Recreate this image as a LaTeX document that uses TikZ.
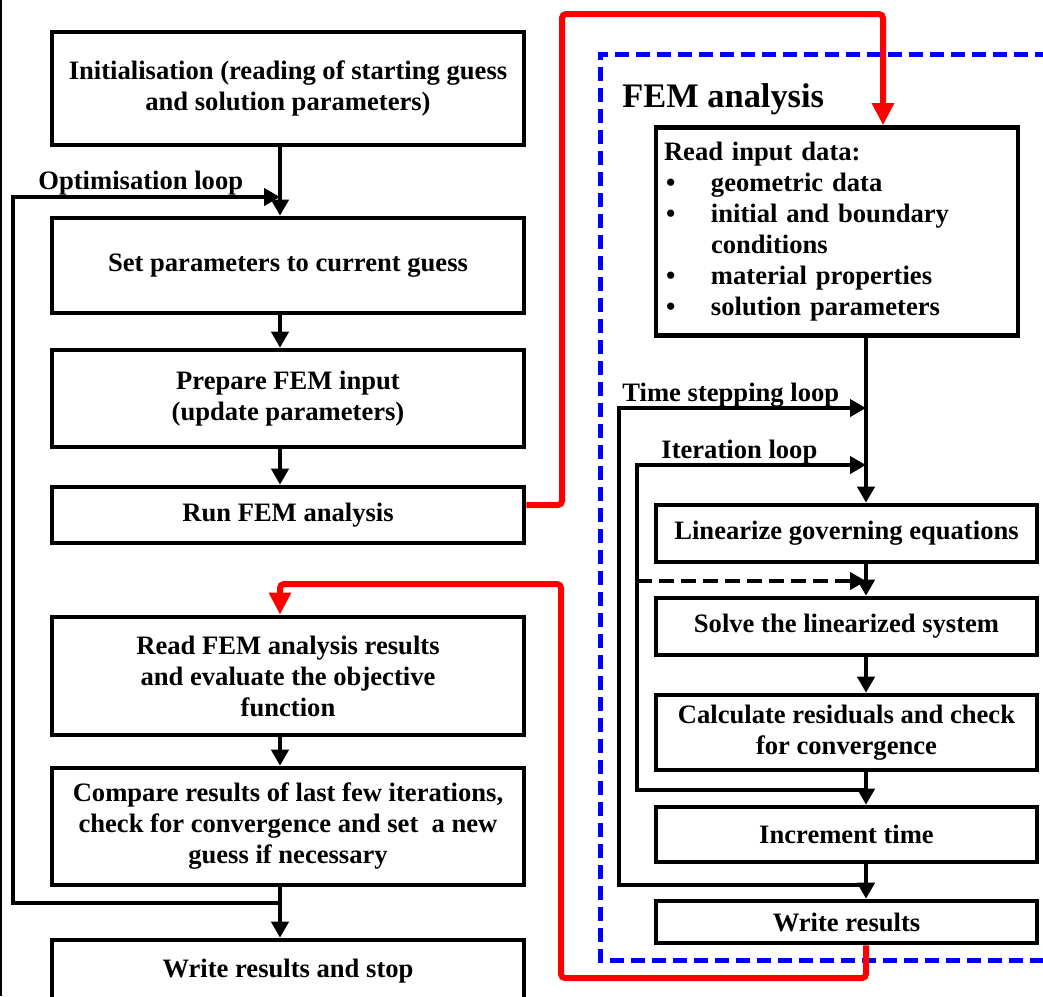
\documentclass[tikz,border=0pt]{standalone}
\usepackage{fontspec}
\setmainfont{Liberation Serif}
\usetikzlibrary{arrows.meta}

\newcommand{\boxfont}{\fontsize{13.3}{15.5}\selectfont}
\newcommand{\bul}{\makebox[23.5pt][l]{\hspace{1pt}\textbullet}}

\tikzset{
  boite/.style={draw, line width=2.3pt, align=center, font=\bfseries\boxfont, inner sep=2pt},
  gauche/.style={boite, minimum width=236pt},
  droite/.style={boite, minimum width=190.5pt},
  fleche/.style={line width=2.3pt, -{Triangle[length=8pt,width=8.5pt]}},
  pointille/.style={fleche, dash pattern=on 7.5pt off 3.5pt},
  rouge/.style={draw=red, line width=3pt, rounded corners=2pt, -{Triangle[length=11pt,width=10.5pt]}},
  etiquette/.style={font=\bfseries\boxfont, inner sep=0pt, anchor=base west},
}

\begin{document}
\begin{tikzpicture}[x=0.5pt, y=-0.5pt]
    \useasboundingbox (0,0) rectangle (1043,996);
    \clip (0,0) rectangle (1043,996);

    % bord gauche
    \draw[line width=1pt] (1,0) -- (1,996);

    % cadre de l'analyse FEM
    \draw[blue, line width=2.5pt, dash pattern=on 7pt off 3.5pt] (1070,54) -- (600,54) -- (600,960) -- (1070,960);
    \node[etiquette, font=\bfseries\fontsize{17.2}{20}\selectfont] (titre) at (622,107) {FEM analysis};

    % colonne de gauche : boucle d'optimisation
    \node[gauche, minimum height=56.5pt] (init) at (288,88.5) {Initialisation (reading of starting guess\\and solution parameters)};
    \node[gauche, minimum height=47.5pt] (setp) at (288,265.5) {Set parameters to current guess};
    \node[gauche, minimum height=48.5pt] (prep) at (288,398.5) {Prepare FEM input\\(update parameters)};
    \node[gauche, minimum height=28pt] (run) at (288,515) {Run FEM analysis};
    \node[gauche, minimum height=59pt] (readres) at (288,676) {Read FEM analysis results\\and evaluate the objective\\function};
    \node[gauche, minimum height=58.5pt] (comp) at (288,826.5) {Compare results of last few iterations,\\check for convergence and set\ \ a new\\guess if necessary};
    \node[gauche, minimum height=31pt] (stop) at (288,971) {Write results and stop};

    \draw[fleche] ([xshift=-4pt]init.south) -- ([xshift=-4pt]setp.north);
    \draw[fleche] ([xshift=-4pt]setp.south) -- ([xshift=-4pt]prep.north);
    \draw[fleche] ([xshift=-4pt]prep.south) -- ([xshift=-4pt]run.north);
    \draw[fleche] ([xshift=-4pt]readres.south) -- ([xshift=-4pt]comp.north);
    \draw[fleche] ([xshift=-4pt]comp.south) -- ([xshift=-4pt]stop.north);

    % retour de la boucle d'optimisation
    \coordinate (optout) at (280,903);
    \coordinate (optin) at (280,197);
    \draw[fleche] (optout) -- (13,903) -- (13,197) -- (optin);
    \node[etiquette] (optlbl) at (38,189) {Optimisation loop};

    % colonne de droite : analyse FEM
    \node[boite, align=left, text width=173pt, inner xsep=4pt, minimum height=104pt] (rin) at (837,231.5) {Read input data:\\
        \bul geometric data\\
        \bul initial and boundary\\
        \hspace*{23.5pt}conditions\\
        \bul material properties\\
        \bul solution parameters};
    \node[droite, minimum height=28.5pt] (lin) at (846.5,533.5) {Linearize governing equations};
    \node[droite, minimum height=28.5pt] (solve) at (846.5,626.5) {Solve the linearized system};
    \node[droite, minimum height=37.5pt] (resid) at (846.5,732.5) {Calculate residuals and check\\for convergence};
    \node[droite, minimum height=27.5pt] (incr) at (846.5,834.5) {Increment time};
    \node[droite, minimum height=21pt] (wres) at (846.5,922) {Write results};

    \draw[fleche] ([xshift=14.5pt]rin.south) -- ([xshift=9.75pt]lin.north);
    \draw[fleche] ([xshift=9.75pt]lin.south) -- ([xshift=9.75pt]solve.north);
    \draw[fleche] ([xshift=9.75pt]solve.south) -- ([xshift=9.75pt]resid.north);
    \draw[fleche] ([xshift=9.75pt]resid.south) -- ([xshift=9.75pt]incr.north);
    \draw[fleche] ([xshift=9.75pt]incr.south) -- ([xshift=9.75pt]wres.north);

    % boucle en temps
    \coordinate (tout) at (866,885);
    \coordinate (tin) at (866,408);
    \draw[fleche] (tout) -- (619,885) -- (619,408) -- (tin);
    \node[etiquette] (tlbl) at (622,401) {Time stepping loop};

    % boucle d'iteration
    \coordinate (iout) at (866,790);
    \coordinate (iin) at (866,465);
    \coordinate (idash) at (866,581);
    \draw[fleche] (iout) -- (637,790) -- (637,465) -- (iin);
    \draw[pointille] (637,581) -- (idash);
    \node[etiquette] (ilbl) at (661,458) {Iteration loop};

    % liens rouges entre les deux colonnes
    \draw[rouge] ([yshift=5pt]run.east) -- (562,505) -- (562,14) -- (883,14) -- ([xshift=23pt]rin.north);
    \draw[rouge] ([xshift=9.75pt]wres.south) -- (866,978) -- (561,978) -- (561,584) -- (280,584) -- ([xshift=-4pt]readres.north);
\end{tikzpicture}
\end{document}
